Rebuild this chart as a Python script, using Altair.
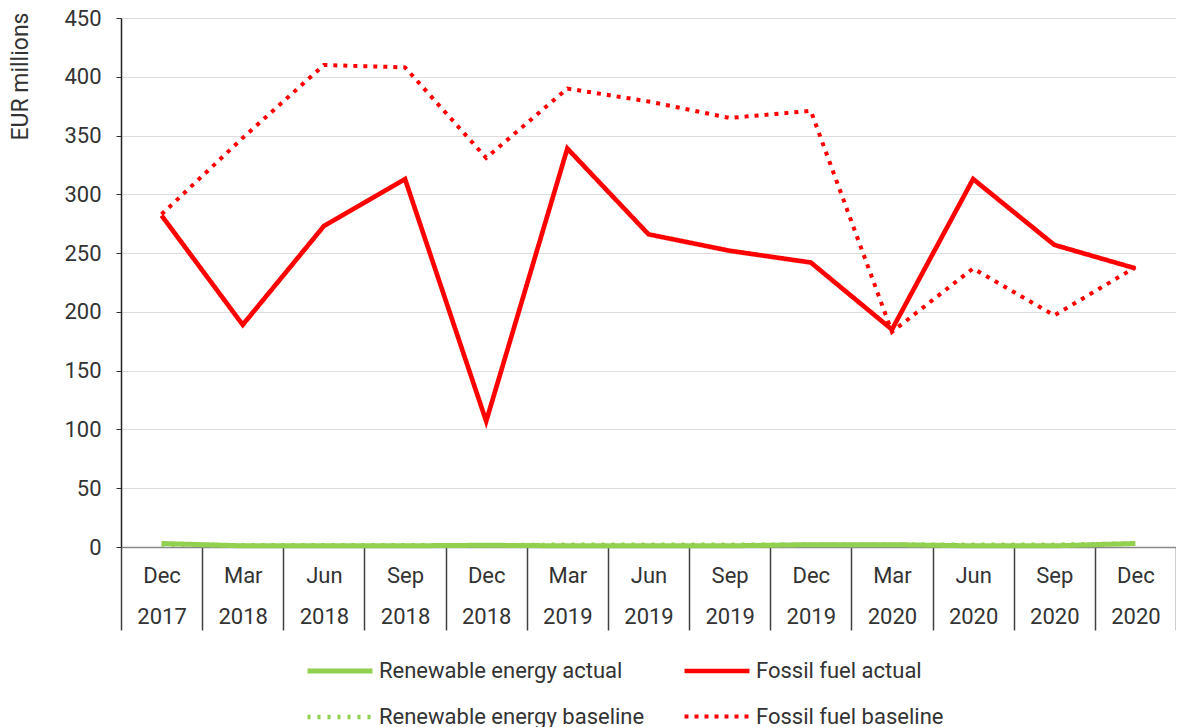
import altair as alt
import pandas as pd

periods = ["Dec 2017", "Mar 2018", "Jun 2018", "Sep 2018", "Dec 2018", "Mar 2019",
           "Jun 2019", "Sep 2019", "Dec 2019", "Mar 2020", "Jun 2020", "Sep 2020", "Dec 2020"]
renewable_actual = [3, 1, 1, 1, 1.5, 1, 1, 1, 2, 2, 1, 1, 3]
fossil_actual = [282, 189, 273, 313, 107, 339, 266, 252, 242, 185, 313, 257, 237]
renewable_baseline = [2, 1.5, 1.5, 1.5, 1.5, 2, 2, 2, 2, 2, 2, 2, 3]
fossil_baseline = [283, 348, 410, 408, 331, 390, 379, 365, 371, 183, 237, 197, 238]

series_names = ["Renewable energy actual", "Fossil fuel actual",
                "Renewable energy baseline", "Fossil fuel baseline"]
series_values = [renewable_actual, fossil_actual, renewable_baseline, fossil_baseline]
series_colors = ["#92D050", "#FF0000", "#92D050", "#FF0000"]
series_dash = [[1, 0], [1, 0], [3, 7], [4, 6]]
series_width = [5, 4, 3, 4]

rows = []
for name, vals in zip(series_names, series_values):
    for p, v in zip(periods, vals):
        rows.append({"period": p, "value": v, "series": name})
df = pd.DataFrame(rows)

font = "Roboto"

legend = alt.Legend(
    title=None, orient="none", legendX=184, legendY=618, columns=2,
    direction="horizontal",
    symbolType="stroke", symbolSize=4225, labelFontSize=22, labelFont=font,
    labelColor="#333333", columnPadding=30, rowPadding=-26, labelOffset=4,
    labelLimit=400,
)

chart = alt.Chart(df).mark_line().encode(
    x=alt.X("period:N", sort=periods, title=None,
            scale=alt.Scale(type="band", paddingInner=0, paddingOuter=0),
            axis=alt.Axis(labelExpr="split(datum.label, ' ')", labelAngle=0,
                          labelFontSize=22, labelFont=font, labelColor="#333333",
                          labelLineHeight=41, labelPadding=-65,
                          tickBand="extent", tickSize=83, tickColor="#404040",
                          tickWidth=1.5, domainColor="#888888", domainWidth=1.5,
                          grid=False)),
    y=alt.Y("value:Q", title="EUR millions",
            scale=alt.Scale(domain=[0, 450], nice=False),
            axis=alt.Axis(values=list(range(0, 451, 50)), labelFontSize=22,
                          labelFont=font, labelColor="#333333", tickSize=5,
                          tickColor="#333333", domainColor="#222222",
                          domainWidth=1.5, gridColor="#dddddd", gridWidth=1.2,
                          labelPadding=15, titleFont=font, titleFontSize=23,
                          titleFontWeight="normal", titleColor="#333333",
                          titleAnchor="end", titlePadding=31, titleY=-6)),
    color=alt.Color("series:N", sort=series_names,
                    scale=alt.Scale(domain=series_names, range=series_colors),
                    legend=legend),
    strokeDash=alt.StrokeDash("series:N", sort=series_names,
                              scale=alt.Scale(domain=series_names, range=series_dash),
                              legend=legend),
    strokeWidth=alt.StrokeWidth("series:N", sort=series_names,
                                scale=alt.Scale(domain=series_names, range=series_width),
                                legend=legend),
    order=alt.Order("series:N"),
).properties(
    width=1055, height=529,
    autosize=alt.AutoSizeParams(type="none"),
    padding={"left": 113, "top": 10, "right": 0, "bottom": 180},
).configure_view(stroke=None)

chart.save("out.html", embed_options={"renderer": "svg", "actions": False})
